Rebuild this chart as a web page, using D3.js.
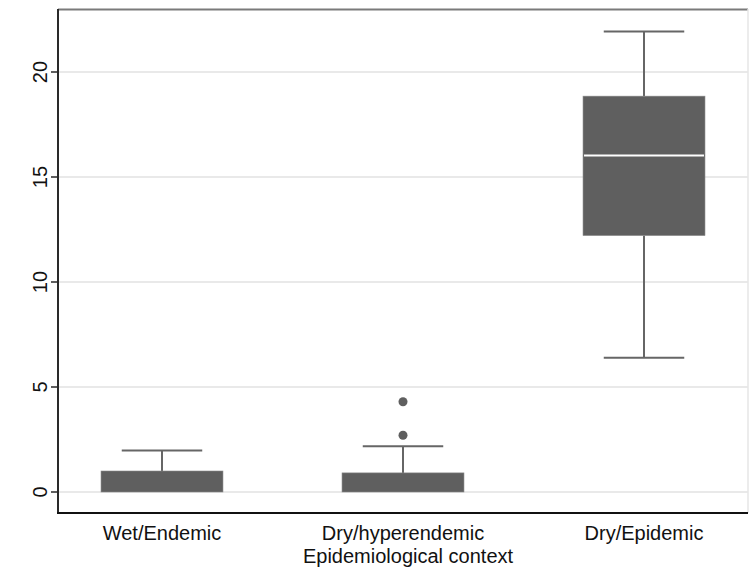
<!DOCTYPE html>
<html><head><meta charset="utf-8">
<script src="https://cdn.jsdelivr.net/npm/d3@7"></script>
<style>body{margin:0;background:#fff}svg{display:block}text{font-family:"Liberation Sans",Arial,sans-serif}</style>
</head><body>
<svg id="c" width="749" height="573"></svg>
<script>
const categories = ["Wet/Endemic", "Dry/hyperendemic", "Dry/Epidemic"];
const lowerWhisker = [0, 0, 6.39];
const q1 = [0, 0, 12.21];
const median = [0, 0, 16.02];
const q3 = [1.0, 0.91, 18.85];
const upperWhisker = [1.98, 2.18, 21.93];
const outliers = [[], [2.7, 4.3], []];
const yTicks = [0, 5, 10, 15, 20];
const xTitle = "Epidemiological context";

const svg = d3.select("#c");
const L = 58, R = 748, T = 9, B = 513;
const x = d3.scalePoint().domain(categories).range([L, R]).padding(0.4315);
const y = d3.scaleLinear().domain([-1, 23]).range([B, T]);
const bw = x.step() * 0.506;
const FS = 20;

// gridlines
svg.append("g").selectAll("line").data(yTicks).join("line")
  .attr("x1", L).attr("x2", R).attr("y1", d => y(d)).attr("y2", d => y(d))
  .attr("stroke", "#e2e2e2").attr("stroke-width", 1.5);

// frame top & right
svg.append("line").attr("x1", L).attr("x2", R).attr("y1", T+0.5).attr("y2", T+0.5).attr("stroke", "#7a7a7a").attr("stroke-width", 2);
svg.append("line").attr("x1", R).attr("x2", R).attr("y1", T).attr("y2", B).attr("stroke", "#e6e6e6").attr("stroke-width", 1.5);

const data = categories.map((c, i) => ({c, lo: lowerWhisker[i], q1: q1[i], med: median[i], q3: q3[i], hi: upperWhisker[i], out: outliers[i]}));
const g = svg.append("g");
data.forEach(d => {
  const cx = x(d.c);
  g.append("line").attr("x1", cx).attr("x2", cx).attr("y1", y(d.q3)).attr("y2", y(d.hi)).attr("stroke", "#666").attr("stroke-width", 2);
  g.append("line").attr("x1", cx - bw*0.33).attr("x2", cx + bw*0.33).attr("y1", y(d.hi)).attr("y2", y(d.hi)).attr("stroke", "#666").attr("stroke-width", 2);
  if (d.lo < d.q1) {
    g.append("line").attr("x1", cx).attr("x2", cx).attr("y1", y(d.q1)).attr("y2", y(d.lo)).attr("stroke", "#666").attr("stroke-width", 2);
    g.append("line").attr("x1", cx - bw*0.33).attr("x2", cx + bw*0.33).attr("y1", y(d.lo)).attr("y2", y(d.lo)).attr("stroke", "#666").attr("stroke-width", 2);
  }
  g.append("rect").attr("x", cx - bw/2).attr("y", y(d.q3)).attr("width", bw).attr("height", y(d.q1) - y(d.q3))
    .attr("fill", "#5f5f5f").attr("stroke", "#8a8a8a").attr("stroke-width", 0.6);
  if (d.med > d.q1) {
    g.append("line").attr("x1", cx - bw/2 + 1).attr("x2", cx + bw/2 - 1).attr("y1", y(d.med)).attr("y2", y(d.med)).attr("stroke", "#fff").attr("stroke-width", 2);
  }
  g.selectAll(null).data(d.out).join("circle").attr("cx", cx).attr("cy", v => y(v)).attr("r", 4.5).attr("fill", "#5f5f5f");
});

// y axis
svg.append("line").attr("x1", L).attr("x2", L).attr("y1", T).attr("y2", B+1).attr("stroke", "#2a2a2a").attr("stroke-width", 2);
svg.append("g").selectAll("line").data(yTicks).join("line")
  .attr("x1", 51).attr("x2", L).attr("y1", d => y(d)).attr("y2", d => y(d)).attr("stroke", "#2a2a2a").attr("stroke-width", 1.5);
svg.append("g").selectAll("text").data(yTicks).join("text")
  .attr("transform", d => `translate(47,${y(d)}) rotate(-90)`)
  .attr("text-anchor", "middle").attr("font-size", FS).attr("fill", "#111").text(d => d);

// x axis
svg.append("line").attr("x1", L-1).attr("x2", R).attr("y1", B).attr("y2", B).attr("stroke", "#111").attr("stroke-width", 2);
svg.append("g").selectAll("text").data(categories).join("text")
  .attr("x", d => x(d)).attr("y", 540).attr("text-anchor", "middle").attr("font-size", FS).attr("fill", "#111").text(d => d);
svg.append("text").attr("x", (L + R)/2 + 5).attr("y", 563).attr("text-anchor", "middle").attr("font-size", FS).attr("fill", "#111").text(xTitle);
</script>
</body></html>
